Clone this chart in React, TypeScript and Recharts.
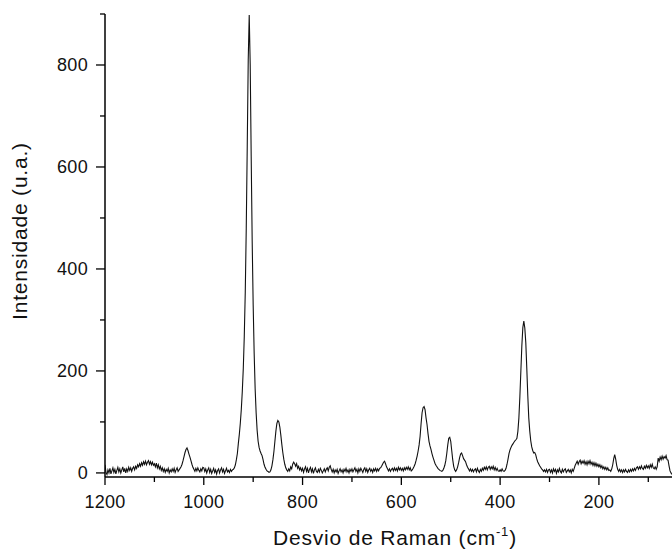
import React from 'react';
import { LineChart, Line, XAxis, YAxis } from 'recharts';

// Raman spectrum sampled every 2 cm-1, from 1200 cm-1 down to 52 cm-1
const shiftStart = 1200;
const shiftStep = 2;

const intensity = [
  // 1200 - 1152
  16, 1, -3, 6, 0, 9, -2, 4, 10, 1, 7, -2, 5, 11, 2, 8, 0, 6, 12, 2, 9, 0, 8, 3, 11,
  // 1150 - 1102
  5, 10, 3, 9, 12, 6, 13, 9, 16, 12, 18, 13, 20, 15, 22, 17, 23, 16, 21, 24, 17, 22, 16, 21, 15,
  // 1100 - 1052
  18, 12, 19, 10, 16, 8, 13, 5, 10, 3, 8, 1, 7, 3, 9, 0, 6, 2, 8, 3, 9, 1, 6, 10, 3,
  // 1050 - 1002
  6, 9, 12, 17, 24, 32, 40, 46, 49, 44, 37, 31, 24, 17, 11, 7, 3, 9, 4, 10, 5, 2, 8, 4, 11,
  // 1000 - 952
  10, 3, 8, 0, 6, 10, 1, 7, -1, 4, 9, 1, 6, -2, 5, 8, 0, 6, 10, 2, 7, -1, 4, 9, 2,
  // 950 - 902
  5, 1, 7, 3, 6, 7, 10, 16, 26, 38, 58, 76, 98, 125, 160, 205, 268, 355, 480, 640, 810, 898, 800, 620, 455,
  // 900 - 852
  330, 235, 165, 118, 84, 62, 50, 43, 38, 34, 26, 17, 11, 7, 4, 3, 1, 2, 6, 14, 26, 42, 62, 82, 97,
  // 850 - 802
  103, 100, 90, 74, 56, 40, 27, 17, 10, 6, 3, 8, 4, 12, 8, 17, 21, 18, 13, 18, 9, 13, 6, 10, 4,
  // 800 - 752
  9, 1, 8, 12, 3, 9, 0, 7, 11, 2, 8, -1, 6, 10, 3, 1, 7, 2, 9, 5, 0, 4, 8, 2, 7,
  // 750 - 702
  10, 4, 11, 14, 7, 2, 7, 0, 6, 2, 7, -1, 4, 8, 2, 6, 0, 7, 3, 9, 2, 6, 0, 7, 3,
  // 700 - 652
  8, 2, 6, 10, 3, 7, 0, 8, 3, 9, 5, 1, 7, 10, 3, 8, 1, 6, 9, 3, 7, 1, 8, 4, 9,
  // 650 - 602
  3, 8, 4, 9, 10, 13, 17, 21, 23, 18, 12, 8, 4, 8, 3, 7, 9, 4, 10, 5, 9, 4, 11, 6, 10,
  // 600 - 552
  5, 9, 4, 10, 6, 11, 7, 12, 6, 10, 4, 6, 9, 13, 18, 25, 33, 43, 55, 72, 97, 118, 128, 130, 124,
  // 550 - 502
  108, 95, 77, 62, 53, 46, 38, 31, 25, 19, 15, 12, 9, 7, 5, 4, 3, 5, 9, 15, 24, 38, 55, 68, 70,
  // 500 - 452
  62, 44, 26, 13, 6, 3, 6, 12, 20, 30, 37, 39, 34, 28, 25, 22, 16, 11, 8, 4, 8, 3, 7, 2, 6,
  // 450 - 402
  8, 2, 9, 4, 1, 7, 3, 9, 5, 11, 7, 12, 6, 11, 13, 7, 12, 8, 13, 6, 11, 5, 9, 4, 3,
  // 400 - 352
  6, 3, 8, 4, 3, 5, 9, 17, 27, 38, 45, 50, 54, 57, 60, 63, 65, 68, 82, 108, 150, 200, 250, 285, 298,
  // 350 - 302
  284, 255, 205, 152, 108, 82, 63, 51, 44, 39, 40, 36, 28, 22, 18, 14, 11, 8, 6, 3, 6, 2, 7, 1, 6,
  // 300 - 252
  7, 1, 6, 0, 8, 3, 7, -1, 6, 2, 9, 3, 0, 7, 2, 6, 8, 1, 4, 7, 2, 6, 0, 7, 3,
  // 250 - 202
  9, 15, 19, 23, 17, 22, 25, 18, 23, 19, 24, 17, 22, 16, 23, 18, 24, 17, 21, 15, 20, 14, 19, 13, 17,
  // 200 - 152
  12, 16, 10, 14, 8, 12, 7, 11, 6, 10, 5, 6, 3, 8, 16, 28, 36, 27, 15, 7, 3, 7, 2, 6, 1,
  // 150 - 102
  6, 2, 7, 3, 1, 6, 2, 7, 3, 8, 4, 9, 5, 10, 12, 7, 12, 8, 14, 9, 7, 13, 9, 15, 10,
  // 100 - 52
  14, 9, 16, 11, 17, 10, 8, 12, 7, 12, 29, 23, 31, 26, 33, 27, 32, 29, 34, 26, 25, 14, 4, 0, -3,
];

const xDomain = [52, 1200];
const yDomain = [-8, 900];
const xTicks = [1200, 1100, 1000, 900, 800, 700, 600, 500, 400, 300, 200, 100];
const xLabelled = [1200, 1000, 800, 600, 400, 200];
const yTicks = [0, 100, 200, 300, 400, 500, 600, 700, 800, 900];
const yLabelled = [0, 200, 400, 600, 800];

const xTitle = 'Desvio de Raman (cm';
const xTitleSup = '-1';
const yTitle = 'Intensidade (u.a.)';

const data = intensity.map((v, i) => ({ shift: shiftStart - i * shiftStep, intensity: v }));

const FONT = '"Liberation Sans", Arial, Helvetica, sans-serif';

function XTick(props: any) {
  const { x, y, payload } = props;
  const major = xLabelled.includes(payload.value);
  return (
    <g>
      <line x1={x} x2={x} y1={y} y2={y + (major ? 8 : 5)} stroke="#000" strokeWidth={1.3} />
      {major && (
        <text x={x} y={y + 31} textAnchor="middle" fontSize={18} fontFamily={FONT} fill="#111" letterSpacing={0.3}>
          {payload.value}
        </text>
      )}
    </g>
  );
}

function YTick(props: any) {
  const { x, y, payload } = props;
  const major = yLabelled.includes(payload.value);
  return (
    <g>
      <line x1={x - (major ? 9 : 5)} x2={x} y1={y} y2={y} stroke="#000" strokeWidth={1.3} />
      {major && (
        <text x={x - 17} y={y} dy="0.35em" textAnchor="end" fontSize={18} fontFamily={FONT} fill="#111" letterSpacing={0.3}>
          {payload.value}
        </text>
      )}
    </g>
  );
}

function XTitle() {
  return (
    <text x={395} y={545} textAnchor="middle" fontSize={21} fontFamily={FONT} fill="#111" letterSpacing={0.8}>
      <tspan>{xTitle}</tspan>
      <tspan dy={-9} fontSize={13}>{xTitleSup}</tspan>
      <tspan dy={9}>)</tspan>
    </text>
  );
}

function YTitle() {
  return (
    <text
      x={0}
      y={0}
      transform="translate(27, 231) rotate(-90)"
      textAnchor="middle"
      fontSize={21}
      fontFamily={FONT}
      fill="#111"
      letterSpacing={0.8}
    >
      {yTitle}
    </text>
  );
}

export default function App() {
  return (
    <div style={{ position: 'absolute', left: 0, top: 0, width: 672, height: 552, background: '#fff' }}>
      <LineChart width={672} height={552} data={data} margin={{ top: 14, right: 0, bottom: 0, left: 0 }}>
        <XAxis
          dataKey="shift"
          type="number"
          domain={xDomain}
          reversed
          allowDataOverflow
          ticks={xTicks}
          interval={0}
          height={75}
          tickSize={0}
          tickMargin={0}
          tickLine={false}
          axisLine={{ stroke: '#000', strokeWidth: 1.5 }}
          tick={(p: any) => <XTick {...p} />}
          label={{ content: () => <XTitle /> }}
        />
        <YAxis
          type="number"
          domain={yDomain}
          allowDataOverflow
          ticks={yTicks}
          interval={0}
          width={105}
          tickSize={0}
          tickMargin={0}
          tickLine={false}
          axisLine={{ stroke: '#000', strokeWidth: 1.5 }}
          tick={(p: any) => <YTick {...p} />}
          label={{ content: () => <YTitle /> }}
        />
        <Line
          dataKey="intensity"
          type="linear"
          stroke="#111"
          strokeWidth={1.1}
          dot={false}
          isAnimationActive={false}
        />
      </LineChart>
    </div>
  );
}
